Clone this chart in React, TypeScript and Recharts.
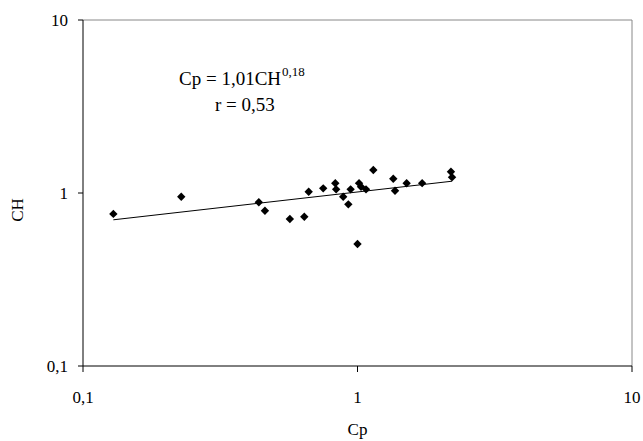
import { ScatterChart, Scatter, XAxis, YAxis, ReferenceLine } from 'recharts';

// measured Cp / CH pairs
const cpValues = [
  0.129, 0.228, 0.437, 0.46, 0.567, 0.64, 0.664, 0.75, 0.83, 0.836, 0.887, 0.926,
  0.944, 1.013, 1.03, 1.074, 1.0, 1.142, 1.35, 1.37, 1.51, 1.72, 2.19, 2.21,
];
const chValues = [
  0.757, 0.952, 0.884, 0.79, 0.707, 0.729, 1.017, 1.064, 1.138, 1.05, 0.952, 0.86,
  1.05, 1.14, 1.087, 1.05, 0.507, 1.358, 1.21, 1.031, 1.138, 1.14, 1.327, 1.232,
];

// power trend line endpoints (straight on log-log axes)
const trendCp = [0.129, 2.21];
const trendCh = [0.70, 1.17];

const logTicks = [0.1, 1, 10];

const points = cpValues.map((cp, i) => ({ x: cp, y: chValues[i] }));
const trend = trendCp.map((cp, i) => ({ x: cp, y: trendCh[i] }));

const FONT = '"Liberation Serif", "Times New Roman", serif';

const fmt = (v: number) => String(v).replace('.', ',');

const Diamond = (props: any) => {
  const { cx, cy } = props;
  if (cx == null || cy == null) return <g />;
  const r = 4.2;
  return (
    <polygon
      points={`${cx},${cy - r} ${cx + r},${cy} ${cx},${cy + r} ${cx - r},${cy}`}
      fill="#000"
    />
  );
};

export default function App() {
  return (
    <div style={{ position: 'absolute', left: 0, top: 0, width: 643, height: 441, background: '#fff', fontFamily: FONT }}>
      <ScatterChart width={643} height={441} margin={{ top: 20, right: 11, bottom: 45, left: 23 }}>
        <XAxis
          type="number"
          dataKey="x"
          scale="log"
          domain={[0.1, 10]}
          ticks={logTicks}
          tickFormatter={fmt}
          allowDataOverflow
          height={30}
          stroke="#000"
          tickSize={6}
          tickMargin={19}
          tick={{ fill: '#000', fontSize: 17, fontFamily: FONT }}
        />
        <YAxis
          type="number"
          dataKey="y"
          scale="log"
          domain={[0.1, 10]}
          ticks={logTicks}
          tickFormatter={fmt}
          allowDataOverflow
          width={60}
          stroke="#000"
          tickSize={5}
          tickMargin={10}
          tick={{ fill: '#000', fontSize: 17, fontFamily: FONT }}
        />
        <ReferenceLine x={10} stroke="#888" strokeWidth={1} />
        <ReferenceLine y={10} stroke="#888" strokeWidth={1} />
        <Scatter
          data={trend}
          line={{ stroke: '#000', strokeWidth: 1 }}
          shape={() => <g />}
          isAnimationActive={false}
        />
        <Scatter data={points} shape={Diamond} isAnimationActive={false} />
      </ScatterChart>

      <div style={{ position: 'absolute', left: 179, top: 68, fontSize: 19, whiteSpace: 'nowrap', lineHeight: '22px' }}>
        Cp = 1,01CH<span style={{ fontSize: 13, position: 'relative', top: -9, marginLeft: 1 }}>0,18</span>
      </div>
      <div style={{ position: 'absolute', left: 215, top: 94, fontSize: 19, whiteSpace: 'nowrap', lineHeight: '22px' }}>
        r = 0,53
      </div>
      <div style={{ position: 'absolute', left: 0, width: 715, top: 420, textAlign: 'center', fontSize: 17, lineHeight: '20px' }}>
        Cp
      </div>
      <div
        style={{
          position: 'absolute',
          left: 18,
          top: 210,
          fontSize: 17,
          lineHeight: '20px',
          transform: 'translate(-50%, -50%) rotate(-90deg)',
          whiteSpace: 'nowrap',
        }}
      >
        CH
      </div>
    </div>
  );
}
